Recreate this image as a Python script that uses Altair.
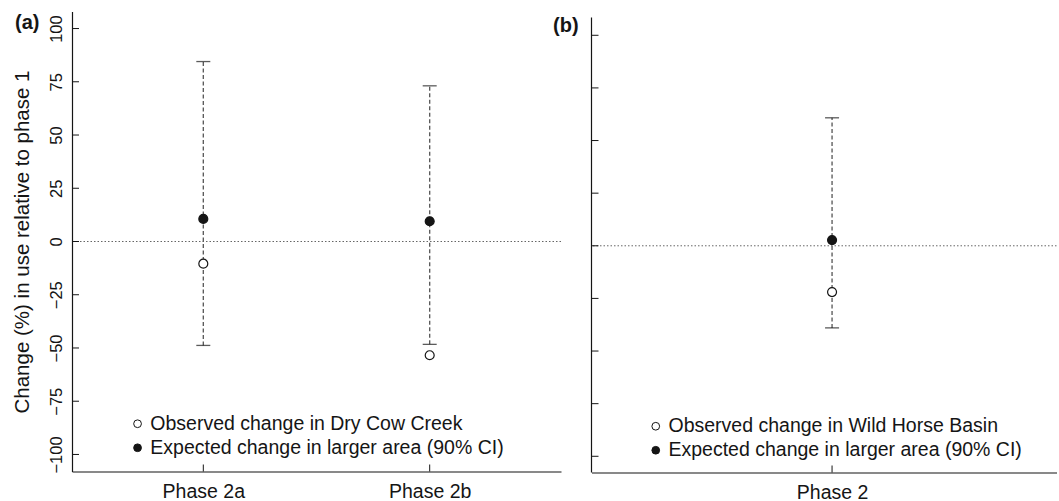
import altair as alt
import pandas as pd

FONT = "Liberation Sans"
INK = "#151515"

# ---------------- data ----------------
y_ticks = [-100, -75, -50, -25, 0, 25, 50, 75, 100]
y_title = "Change (%) in use relative to phase 1"
exp_label = "Expected change in larger area (90% CI)"

# panel (a)
phases_a = ["Phase 2a", "Phase 2b"]
expected_a = [10.6, 9.5]
lower_a = [-48.8, -48.3]
upper_a = [84.5, 73.1]
observed_a = [-10.4, -53.4]
obs_label_a = "Observed change in Dry Cow Creek"

# panel (b)
phases_b = ["Phase 2"]
expected_b = [2.7]
lower_b = [-39.0]
upper_b = [60.8]
observed_b = [-22.0]
obs_label_b = "Observed change in Wild Horse Basin"

# axis limits
ylim_a = [-108, 108]
ylim_b = [-107.7, 111.3]
yline_b = [-107.7, 108.45]
xlim_a = [0.42, 2.58]
xlim_b = [0, 1.933]


def panel(phases, expected, lower, upper, observed, obs_label, tag,
          width, height, xlim, ylim, show_labels, legend_xy, tag_xy, yline=None):
    pos = list(range(1, len(phases) + 1))
    ci = pd.DataFrame({"pos": pos, "phase": phases, "lower": lower,
                       "upper": upper, "expected": expected})
    pts = pd.DataFrame({
        "pos": pos + pos,
        "series": [obs_label] * len(pos) + [exp_label] * len(pos),
        "value": list(observed) + list(expected),
    })
    ticks = pd.DataFrame({"t": y_ticks})
    zero = pd.DataFrame({"z": [0]})
    names = "[" + ",".join("'%s'" % p for p in phases) + "]"

    x_axis = alt.Axis(values=pos, labelExpr=names + "[datum.value-1]",
                      ticks=False, tickSize=0, labelPadding=25.5,
                      labelBaseline="alphabetic", labelAngle=0,
                      labelFontSize=19.5, labelFont=FONT, labelColor=INK,
                      labelFlush=False, domainColor=INK, domainWidth=1.2,
                      grid=False, title=None)
    x_scale = alt.Scale(domain=xlim, nice=False, zero=False)
    if show_labels:
        y_axis = alt.Axis(values=y_ticks, ticks=False, tickSize=0, grid=False,
                          labelAngle=270, labelAlign="center",
                          labelBaseline="bottom", labelPadding=8,
                          labelFontSize=16.5, labelFont=FONT, labelColor=INK,
                          labelFlush=False, labelOverlap=False,
                          domainColor=INK, domainWidth=1.2,
                          title=y_title, titleFont=FONT, titleFontSize=20.5,
                          titleFontWeight="normal", titleColor=INK,
                          titleAngle=270, titleAlign="center",
                          titleBaseline="alphabetic",
                          titleX=-43.7, titleY=height / 2)
    else:
        y_axis = alt.Axis(values=y_ticks, ticks=False, tickSize=0, grid=False,
                          labels=False, domain=False, title=None)
    y_scale = alt.Scale(domain=ylim, nice=False, zero=False)

    def X(field):
        return alt.X(field, scale=x_scale, axis=x_axis)

    def Y(field):
        return alt.Y(field, scale=y_scale, axis=y_axis)

    layers = []
    zero_line = alt.Chart(zero).mark_rule(
        color="#666", strokeDash=[1.5, 2], strokeWidth=1
    ).encode(y=Y("z:Q"))
    layers.append(zero_line)

    ytick_rules = alt.Chart(ticks).mark_rule(color=INK, strokeWidth=1).encode(
        y=Y("t:Q"), x=alt.value(0), x2=alt.value(7))
    layers.append(ytick_rules)

    xtick_rules = alt.Chart(ci).mark_rule(color=INK, strokeWidth=1).encode(
        x=X("pos:Q"), y=alt.value(height), y2=alt.value(height - 7))
    layers.append(xtick_rules)

    if yline is not None:
        yl = pd.DataFrame({"lo": [yline[0]], "hi": [yline[1]]})
        layers.append(alt.Chart(yl).mark_rule(color=INK, strokeWidth=1.2).encode(
            y=Y("lo:Q"), y2="hi:Q", x=alt.value(0)))

    whisker = alt.Chart(ci).mark_rule(
        color="#555", strokeDash=[4, 2.5], strokeWidth=1.3
    ).encode(x=X("pos:Q"), y=Y("lower:Q"), y2="upper:Q")
    layers.append(whisker)

    cap_hi = alt.Chart(ci).mark_tick(
        orient="horizontal", size=14, thickness=1.3, color=INK
    ).encode(x=X("pos:Q"), y=Y("upper:Q"))
    cap_lo = alt.Chart(ci).mark_tick(
        orient="horizontal", size=14, thickness=1.3, color=INK
    ).encode(x=X("pos:Q"), y=Y("lower:Q"))
    layers += [cap_hi, cap_lo]

    points = alt.Chart(pts).mark_point(
        shape="circle", filled=True, size=80, stroke=INK, strokeWidth=1.2,
        opacity=1
    ).encode(
        x=X("pos:Q"), y=Y("value:Q"),
        fill=alt.Fill("series:N",
                      scale=alt.Scale(domain=[obs_label, exp_label],
                                      range=["white", INK]),
                      legend=alt.Legend(orient="none", legendX=legend_xy[0],
                                        legendY=legend_xy[1], title=None,
                                        padding=0, labelFont=FONT,
                                        labelFontSize=19.5, labelColor=INK,
                                        labelOffset=3, rowPadding=3,
                                        symbolType="circle", symbolSize=60,
                                        symbolStrokeColor=INK,
                                        symbolStrokeWidth=1,
                                        labelLimit=0)),
    )
    layers.append(points)

    tag_df = pd.DataFrame({"tag": [tag]})
    tag_mark = alt.Chart(tag_df).mark_text(
        font=FONT, fontSize=20, fontWeight="bold", color=INK,
        align="left", baseline="middle"
    ).encode(text="tag:N", x=alt.value(tag_xy[0]), y=alt.value(tag_xy[1]))
    layers.append(tag_mark)

    return alt.layer(*layers).properties(width=width, height=height)


pa = panel(phases_a, expected_a, lower_a, upper_a, observed_a, obs_label_a,
           "(a)", 489, 460, xlim_a, ylim_a, True, (55.8, 402.5), (-57, 11.5))
pb = panel(phases_b, expected_b, lower_b, upper_b, observed_b, obs_label_b,
           "(b)", 465, 461, xlim_b, ylim_b, False, (54.5, 405), (-38.5, 14),
           yline=yline_b)

chart = alt.hconcat(pa, pb, spacing=30.5, bounds="flush").resolve_scale(
    x="independent", y="independent", fill="independent"
).resolve_legend(fill="independent").resolve_axis(
    x="independent", y="independent"
).configure_view(stroke=None).properties(
    padding={"left": 12, "top": 11.5, "right": 0, "bottom": 0},
    background="white",
)

chart.save("out.html", embed_options={"renderer": "svg", "actions": False})
